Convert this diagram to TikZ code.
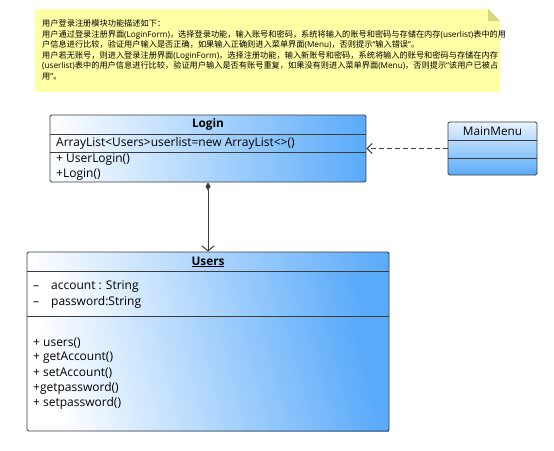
\documentclass[tikz,border=0pt]{standalone}
\usepackage{fontspec}
\setmainfont{Open Sans}
\newfontfamily\cjkfont{Noto Sans CJK SC}
\newfontfamily\latinfont{Open Sans}
\usetikzlibrary{arrows.meta,positioning}
\makeatletter
\newXeTeXintercharclass\cjkclass
\count@="4E00
\loop\ifnum\count@<"A000
  \XeTeXcharclass\count@=\cjkclass
  \advance\count@ by 1
\repeat
\count@="3000
\loop\ifnum\count@<"3040
  \XeTeXcharclass\count@=\cjkclass
  \advance\count@ by 1
\repeat
\count@="FF00
\loop\ifnum\count@<"FFF0
  \XeTeXcharclass\count@=\cjkclass
  \advance\count@ by 1
\repeat
\makeatother
\XeTeXinterchartoks 0 \cjkclass = {\cjkfont}
\XeTeXinterchartoks 4095 \cjkclass = {\cjkfont}
\XeTeXinterchartoks \cjkclass 0 = {\latinfont}
\XeTeXinterchartoks \cjkclass 4095 = {\latinfont}
\definecolor{umlblue}{RGB}{90,170,250}
\definecolor{umlmid}{RGB}{178,216,252}
\definecolor{umllight}{RGB}{232,243,255}
\definecolor{notefill}{RGB}{255,255,166}
\definecolor{notefold}{RGB}{214,214,130}
\definecolor{edge}{RGB}{60,60,60}
\tikzset{
  classbox/.style={draw=edge, line width=0.9pt, rounded corners=1.5pt, inner sep=0pt},
  hgrad/.style={left color=white, middle color=umlmid, right color=umlblue},
  dgrad/.style={left color=white, middle color=umlmid, right color=umlblue, shading angle=105},
  vgrad/.style={top color=umllight, bottom color=umlblue},
  member/.style={anchor=west, inner sep=0pt, font=\fontsize{12}{14}\selectfont},
  title/.style={inner sep=0pt, font=\fontsize{11.8}{14}\selectfont},
  sep/.style={draw=edge, line width=0.9pt},
  conn/.style={draw=edge, line width=1pt},
}
\begin{document}
\XeTeXinterchartokenstate=1
\begin{tikzpicture}[x=1pt,y=-1pt]
\useasboundingbox (0,0) rectangle (554,450);
% note
\fill[notefill] (35,9) -- (488,9) -- (500,21) -- (500,92) -- (35,92) -- cycle;
\fill[notefold] (488,9) -- (500,21) -- (488,21) -- cycle;
\node[anchor=north west, inner sep=0pt, align=left, font=\fontsize{8.2}{10.5}\selectfont] (note) at (42,19.5) {用户登录注册模块功能描述如下：\\
用户通过登录注册界面(LoginForm)，选择登录功能，输入账号和密码，系统将输入的账号和密码与存储在内存(userlist)表中的用\\
户信息进行比较，验证用户输入是否正确，如果输入正确则进入菜单界面(Menu)，否则提示“输入错误”。\\
用户若无账号，则进入登录注册界面(LoginForm)，选择注册功能，输入新账号和密码，系统将输入的账号和密码与存储在内存\\
(userlist)表中的用户信息进行比较，验证用户输入是否有账号重复，如果没有则进入菜单界面(Menu)，否则提示“该用户已被占\\
用”。};
% Login class
\node[classbox, hgrad, minimum width=316pt, minimum height=67pt] (login) at (208,148.5) {};
\draw[sep] (50,134) -- (366,134);
\draw[sep] (50,152) -- (366,152);
\node[title] (logint) at (208,124.5) {\textbf{Login}};
\node[member] (la) at (56,143) {ArrayList<Users>userlist=new ArrayList<>()};
\node[member] (lm1) at (56,159.5) {+ UserLogin()};
\node[member] (lm2) at (56,175) {+Login()};
% MainMenu class
\node[classbox, vgrad, minimum width=89pt, minimum height=53pt] (menu) at (492.5,148.5) {};
\draw[sep] (448,140) -- (537,140);
\draw[sep] (448,158) -- (537,158);
\node[title] (menut) at (492.5,131) {MainMenu};
% Users class: compartments shaded separately
\shade[hgrad] (27,252) rectangle (389,271);
\shade[dgrad] (27,271) rectangle (389,316);
\shade[dgrad] (27,316) rectangle (389,431);
\node[classbox, minimum width=362pt, minimum height=179pt] (users) at (208,341.5) {};
\draw[sep] (27,271) -- (389,271);
\draw[sep] (27,316) -- (389,316);
\node[title] (userst) at (208,262) {\textbf{\underline{Users}}};
\node[member] (ua1) at (33,287) {–\quad account : String};
\node[member] (ua2) at (33,302) {–\quad password:String};
\node[member] (um1) at (33,343) {+ users()};
\node[member] (um2) at (33,358) {+ getAccount()};
\node[member] (um3) at (33,373) {+ setAccount()};
\node[member] (um4) at (33,388) {+getpassword()};
\node[member] (um5) at (33,403) {+ setpassword()};
% connectors
\draw[conn, {Diamond[length=8pt,width=5pt]}-{Straight Barb[length=5pt,width=12pt]}] (login.south) -- (users.north);
\draw[conn, dashed, dash pattern=on 5pt off 3pt, -{Straight Barb[length=5pt,width=10pt]}] (menu.west) -- (login.east);
\end{tikzpicture}
\end{document}
